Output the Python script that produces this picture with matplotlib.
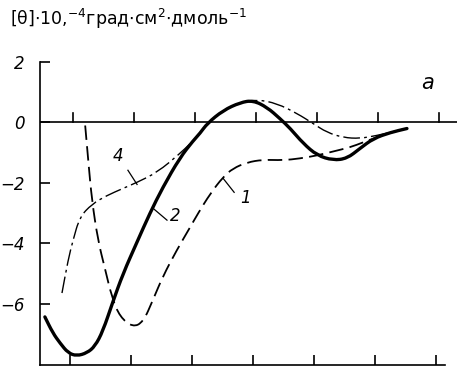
import numpy as np
import matplotlib
matplotlib.use('Agg')
from matplotlib import pyplot as plt
from matplotlib.path import Path
from matplotlib.patches import PathPatch

# x axis is unlabeled in the source; ticks read as 190..250 step 10
# curve 2 (solid)
x2 = [185.9, 187.2, 188.4, 189.7, 191.1, 192.8, 194.1, 195.4, 197.0, 198.7, 201.0, 203.1,
      205.2, 208.0, 210.2, 211.3, 212.5, 215.1, 217.9, 220.0, 222.3, 224.4, 226.1, 228.2,
      230.5, 233.1, 235.4, 237.5, 239.7, 242.5, 245.2]
y2 = [-6.43, -6.96, -7.3, -7.62, -7.72, -7.62, -7.4, -6.9, -5.95, -5.0, -3.95, -3.0,
      -2.15, -1.17, -0.6, -0.36, -0.03, 0.4, 0.66, 0.73, 0.5, 0.13, -0.2, -0.69,
      -1.09, -1.25, -1.19, -0.86, -0.53, -0.33, -0.2]

# curve 1 (dashed)
x1 = [192.5, 193.0, 193.6, 194.6, 195.7, 196.9, 198.2, 200.3, 202.0, 203.6, 205.2, 207.5,
      209.7, 211.0, 213.0, 215.1, 216.7, 219.0, 221.6, 224.9, 227.7, 230.5, 233.1, 235.9,
      238.0, 239.7, 242.5, 245.2]
y1 = [-0.1, -1.25, -2.57, -3.9, -4.8, -5.8, -6.43, -6.77, -6.6, -5.87, -5.1, -4.22,
      -3.46, -3.0, -2.35, -1.8, -1.52, -1.32, -1.23, -1.25, -1.19, -1.09, -0.96, -0.82,
      -0.66, -0.53, -0.33, -0.2]

# curve 4 (dash-dot)
x4 = [188.7, 189.7, 190.5, 191.6, 193.6, 196.0, 198.7, 201.0, 204.3, 208.0, 209.7, 211.0,
      212.5, 215.1, 217.9, 220.7, 223.9, 227.2, 229.8, 232.1, 234.8, 237.5, 240.3, 243.0, 245.2]
y4 = [-5.64, -4.55, -3.9, -3.13, -2.7, -2.42, -2.18, -1.98, -1.65, -1.03, -0.7, -0.43,
      -0.05, 0.4, 0.66, 0.76, 0.63, 0.3, -0.03, -0.33, -0.5, -0.53, -0.43, -0.3, -0.2]

xticks = [190, 200, 210, 220, 230, 240, 250]
yticks = [2, 0, -2, -4, -6]
ylabels = ['2', '0', '\u22122', '\u22124', '\u22126']


def smoothPath(xs, ys):
    # quadratic bezier through the midpoints, the read points act as control points
    pts = list(zip(xs, ys))
    verts = [pts[0]]
    codes = [Path.MOVETO]
    mid = lambda a, b: ((a[0]+b[0])/2, (a[1]+b[1])/2)
    verts.append(mid(pts[0], pts[1]))
    codes.append(Path.LINETO)
    for i in range(1, len(pts)-1):
        verts += [pts[i], mid(pts[i], pts[i+1])]
        codes += [Path.CURVE3, Path.CURVE3]
    verts.append(pts[-1])
    codes.append(Path.LINETO)
    return Path(verts, codes)


W, H = 457, 374
fig = plt.figure(figsize=(W/100, H/100), dpi=100)
ax = fig.add_axes([40/W, 9/H, (W-40)/W, 303/H])
ax.set_xlim(185.1, 253.4)
ax.set_ylim(-8.02, 2.0)

for s in ['top', 'right']:
    ax.spines[s].set_visible(False)
for s in ['left', 'bottom']:
    ax.spines[s].set_linewidth(1.2)
ax.spines['bottom'].set_bounds(185.1, 251.5)

ax.set_xticks(xticks)
ax.set_xticklabels([])
ax.set_yticks(yticks)
ax.set_yticklabels(ylabels, fontsize=12, fontstyle='italic')
ax.tick_params(axis='both', direction='in', length=7, width=1.2, pad=11)

# zero line with upward ticks
ax.axhline(0, color='black', lw=1.2)
for xt in xticks:
    ax.plot([xt + 0.5, xt + 0.5], [0, 0.33], color='black', lw=1.2)

ax.add_patch(PathPatch(smoothPath(x2, y2), fill=False, edgecolor='black', lw=2.4,
                       capstyle='round', joinstyle='round'))
ax.add_patch(PathPatch(smoothPath(x1, y1), fill=False, edgecolor='black', lw=1.3,
                       linestyle=(0, (8, 3.5))))
ax.add_patch(PathPatch(smoothPath(x4, y4), fill=False, edgecolor='black', lw=1.0,
                       linestyle=(0, (12, 3, 2, 3))))

# curve labels with leaders
ax.plot([199.5, 201.0], [-1.58, -2.05], color='black', lw=0.9)
ax.text(197.9, -1.1, '4', fontsize=12, fontstyle='italic', ha='center', va='center')
ax.plot([203.8, 205.9], [-2.87, -3.23], color='black', lw=0.9)
ax.text(207.3, -3.1, '2', fontsize=12, fontstyle='italic', ha='center', va='center')
ax.plot([215.1, 216.9], [-1.85, -2.31], color='black', lw=0.9)
ax.text(218.7, -2.5, '1', fontsize=12, fontstyle='italic', ha='center', va='center')
ax.text(248.5, 1.3, 'a', fontsize=15, fontstyle='italic', ha='center', va='center')

title = ('[\u03b8]$\\cdot\\mathit{10}{,}^{-4}$\u0433\u0440\u0430\u0434$\\cdot$\u0441\u043c$^{2}$'
         '$\\cdot$\u0434\u043c\u043e\u043b\u044c$^{-1}$')
fig.text(10/W, 1-19/H, title, fontsize=12.5, ha='left', va='center')

fig.savefig('out.png', dpi=100)
